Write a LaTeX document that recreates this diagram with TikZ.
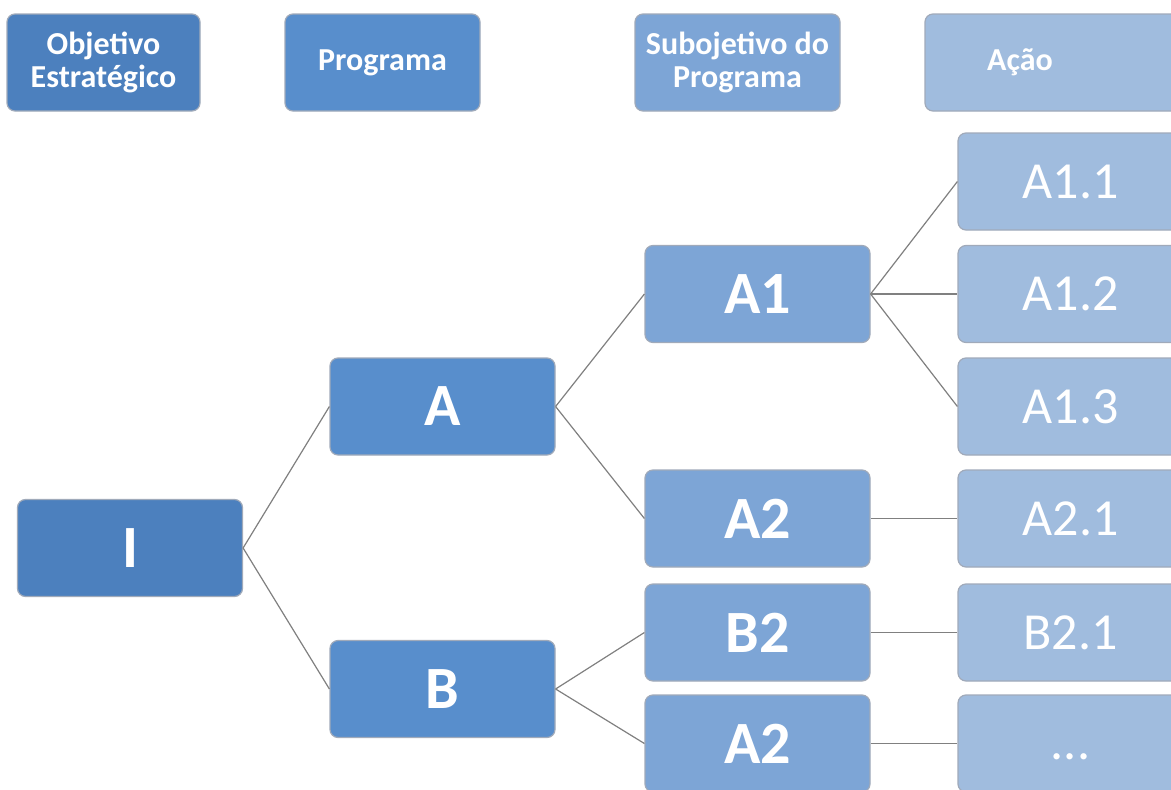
\documentclass[tikz,border=0pt]{standalone}
\usepackage{fontspec}
\setmainfont{Carlito}
\definecolor{cA}{RGB}{76,128,190}
\definecolor{cB}{RGB}{88,142,204}
\definecolor{cC}{RGB}{125,165,214}
\definecolor{cD}{RGB}{160,188,222}
\definecolor{edgegray}{RGB}{128,128,128}
\definecolor{rim}{RGB}{160,170,186}
\tikzset{
  box/.style={rectangle, rounded corners=8pt, draw=rim, line width=1.2pt, text=white,
    inner sep=0pt, minimum width=225pt, minimum height=97pt, align=center},
  lvlA/.style={box, fill=cA, font=\bfseries\fontsize{60}{62}\selectfont},
  lvlB/.style={box, fill=cB, font=\bfseries\fontsize{60}{62}\selectfont},
  lvlC/.style={box, fill=cC, font=\bfseries\fontsize{60}{62}\selectfont},
  lvlD/.style={box, fill=cD, font=\fontsize{52}{54}\selectfont},
  hdr/.style={box, minimum height=97pt, font=\bfseries\fontsize{32}{33}\selectfont},
  link/.style={draw=edgegray, line width=1.2pt}
}
\begin{document}
\begin{tikzpicture}[x=1pt,y=-1pt]
\clip (0,0) rectangle (1171,790);
\fill[white] (0,0) rectangle (1171,790);
% headers
\node[hdr, fill=cA, minimum width=193pt] (h1) at (103.5,62.5) {Objetivo\\Estratégico};
\node[hdr, fill=cB, minimum width=195pt] (h2) at (382.5,62.5) {Programa};
\node[hdr, fill=cC, minimum width=205pt] (h3) at (737.5,62.5) {Subojetivo do\\Programa};
\node[hdr, fill=cD, minimum width=260pt] (h4) at (1055,62.5) {\hspace*{-70pt}Ação};
% tree
\node[lvlA] (I) at (130,548) {I};
\node[lvlB] (A) at (442.5,406.5) {A};
\node[lvlB] (B) at (442.5,689) {B};
\node[lvlC] (A1) at (757.5,294) {A1};
\node[lvlC] (A2) at (757.5,518.5) {A2};
\node[lvlC] (B2) at (757.5,632.5) {B2};
\node[lvlC] (A2b) at (757.5,743.5) {A2};
\node[lvlD] (A11) at (1070.5,181.5) {A1.1};
\node[lvlD] (A12) at (1070.5,294) {A1.2};
\node[lvlD] (A13) at (1070.5,406.5) {A1.3};
\node[lvlD] (A21) at (1070.5,518.5) {A2.1};
\node[lvlD] (B21) at (1070.5,632.5) {B2.1};
\node[lvlD] (dots) at (1070.5,743.5) {\vphantom{A}...};
% connectors
\draw[link] (I.east) -- (A.west);
\draw[link] (I.east) -- (B.west);
\draw[link] (A.east) -- (A1.west);
\draw[link] (A.east) -- (A2.west);
\draw[link] (B.east) -- (B2.west);
\draw[link] (B.east) -- (A2b.west);
\draw[link] (A1.east) -- (A11.west);
\draw[link] (A1.east) -- (A12.west);
\draw[link] (A1.east) -- (A13.west);
\draw[link] (A2.east) -- (A21.west);
\draw[link] (B2.east) -- (B21.west);
\draw[link] (A2b.east) -- (dots.west);
\end{tikzpicture}
\end{document}
